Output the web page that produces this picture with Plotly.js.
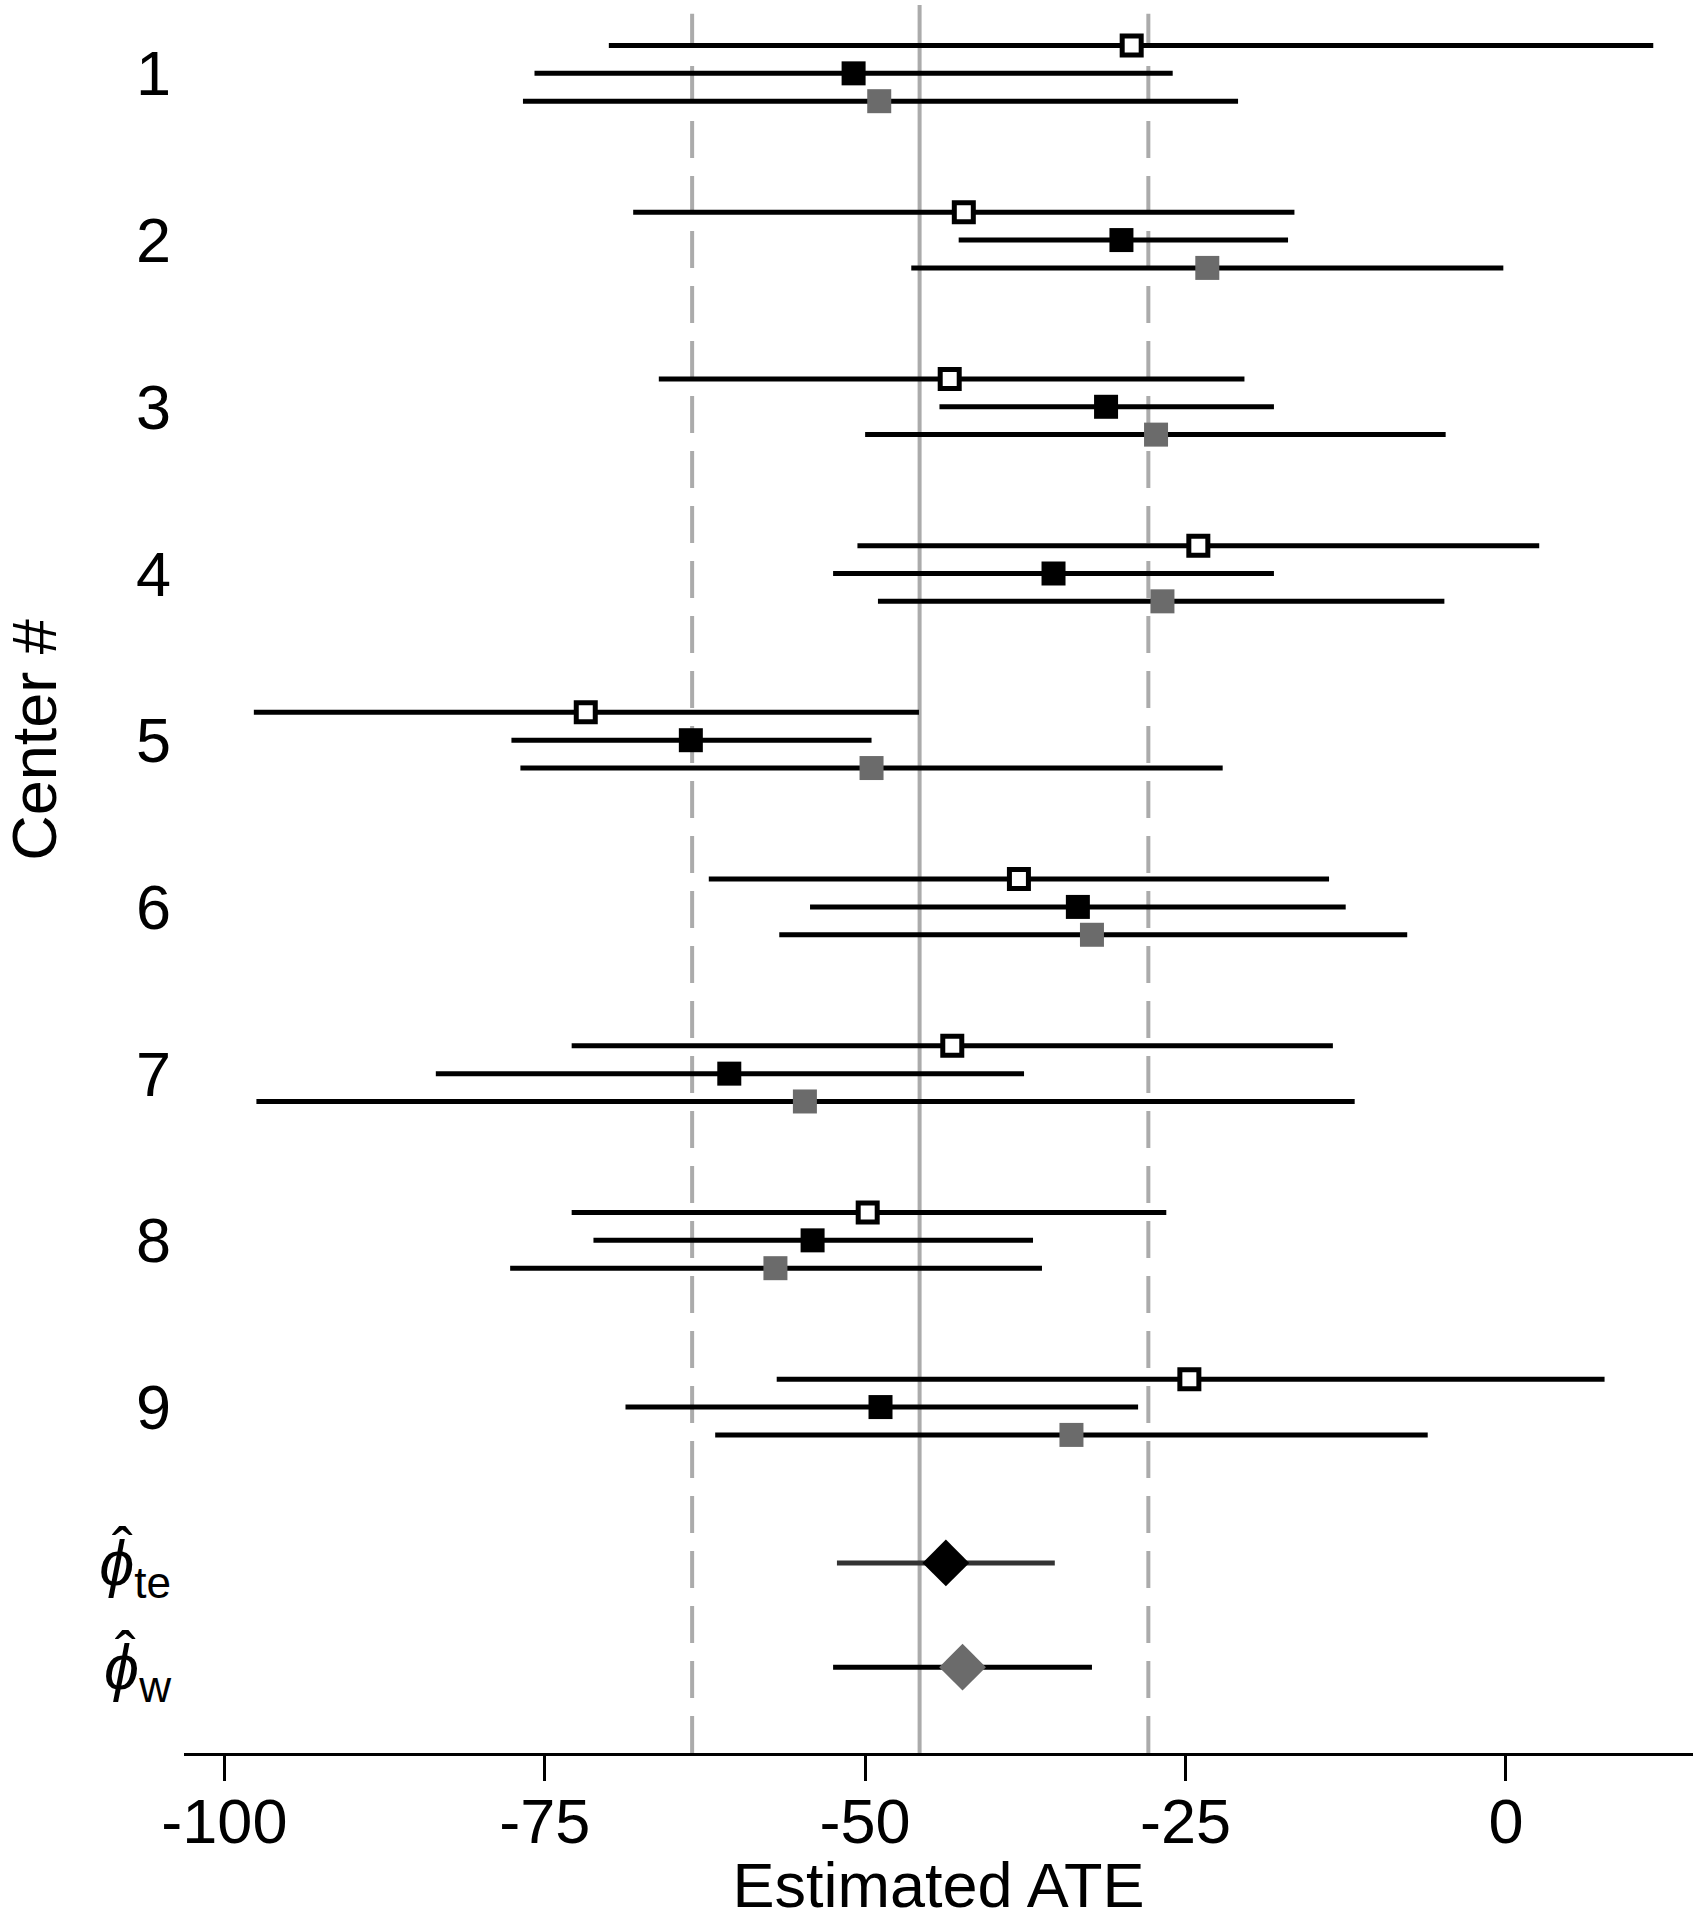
<!DOCTYPE html>
<html>
<head>
<meta charset="utf-8">
<script src="https://cdn.plot.ly/plotly-3.0.1.min.js"></script>
<style>
  body { margin: 0; background: #fff; }
  #plot1 { width: 1699px; height: 1920px; }
</style>
</head>
<body>
<div id="plot1"></div>
<script>
// centre labels
var centers = ['1', '2', '3', '4', '5', '6', '7', '8', '9'];

// open squares (top row of each centre)
var openEst = [-29.2, -42.3, -43.4, -24.0, -71.8, -38.0, -43.2, -49.8, -24.7];
var openLo  = [-70.0, -68.1, -66.1, -50.6, -97.7, -62.2, -72.9, -72.9, -56.9];
var openHi  = [ 11.5, -16.5, -20.4,   2.6, -45.8, -13.8, -13.5, -26.5,   7.7];

// black squares (middle row)
var blackEst = [-50.9, -30.0, -31.2, -35.3, -63.6, -33.4, -60.6, -54.1, -48.8];
var blackLo  = [-75.8, -42.7, -44.2, -52.5, -77.6, -54.3, -83.5, -71.2, -68.7];
var blackHi  = [-26.0, -17.0, -18.1, -18.1, -49.5, -12.5, -37.6, -36.9, -28.7];

// grey squares (bottom row)
var greyEst = [-48.9, -23.3, -27.3, -26.8, -49.5, -32.3, -54.7, -57.0, -33.9];
var greyLo  = [-76.7, -46.4, -50.0, -49.0, -76.9, -56.7, -97.5, -77.7, -61.7];
var greyHi  = [-20.9,  -0.2,  -4.7,  -4.8, -22.1,  -7.7, -11.8, -36.2,  -6.1];

// pooled estimates
var pooledLabels = ['<i>ϕ</i><sub>te</sub>', '<i>ϕ</i><sub>w</sub>'];
var pooledEst = [-43.7, -42.4];
var pooledLo  = [-52.2, -52.5];
var pooledHi  = [-35.2, -32.3];

// reference lines: solid centre, dashed bounds
var refMid = -45.75;
var refBounds = [-63.5, -27.9];

var xTicks = [-100, -75, -50, -25, 0];

var FONT = '"Liberation Sans", Arial, Helvetica, sans-serif';
var FS = 63;
var GREY = '#6b6b6b';

var rowOffset = 0.167;
var centerY = centers.map(function (c, i) { return i + 1; });
var pooledY = [9.935, 10.56];

function diffs(a, b) { return a.map(function (v, i) { return v - b[i]; }); }

function rowTrace(est, lo, hi, dy, marker) {
  return {
    x: est,
    y: centerY.map(function (v) { return v + dy; }),
    mode: 'markers',
    type: 'scatter',
    marker: marker,
    error_x: {
      type: 'data', symmetric: false,
      array: diffs(hi, est), arrayminus: diffs(est, lo),
      color: '#000', thickness: 5, width: 0
    },
    hoverinfo: 'x'
  };
}

var trace1 = rowTrace(openEst, openLo, openHi, -rowOffset,
  {symbol: 'square', size: 19, color: '#fff', line: {color: '#000', width: 5}});
var trace2 = rowTrace(blackEst, blackLo, blackHi, 0,
  {symbol: 'square', size: 24, color: '#000', line: {width: 0}});
var trace3 = rowTrace(greyEst, greyLo, greyHi, rowOffset,
  {symbol: 'square', size: 24, color: GREY, line: {width: 0}});

var trace4 = {
  x: [pooledEst[0]], y: [pooledY[0]],
  mode: 'markers', type: 'scatter',
  marker: {symbol: 'diamond', size: 36, color: '#000', line: {width: 0}},
  error_x: {type: 'data', symmetric: false,
    array: [pooledHi[0] - pooledEst[0]], arrayminus: [pooledEst[0] - pooledLo[0]],
    color: '#333', thickness: 5, width: 0}
};
var trace5 = {
  x: [pooledEst[1]], y: [pooledY[1]],
  mode: 'markers', type: 'scatter',
  marker: {symbol: 'diamond', size: 36, color: GREY, line: {width: 0}},
  error_x: {type: 'data', symmetric: false,
    array: [pooledHi[1] - pooledEst[1]], arrayminus: [pooledEst[1] - pooledLo[1]],
    color: '#000', thickness: 5, width: 0}
};

var data = [trace1, trace2, trace3, trace4, trace5];

var shapes = [{
  type: 'line', layer: 'below', xref: 'x', yref: 'paper',
  x0: refMid, x1: refMid, y0: 0, y1: 1,
  line: {color: '#ababab', width: 4}
}];
refBounds.forEach(function (b) {
  shapes.push({
    type: 'line', layer: 'below', xref: 'x', yref: 'paper',
    x0: b, x1: b, y0: 0, y1: 0.995,
    line: {color: '#ababab', width: 4, dash: '37px,18px'}
  });
});

// hats over the pooled phi labels, and the y-axis title
var annotations = [
  {xref: 'paper', yref: 'y', x: -0.041, y: pooledY[0], yshift: 13,
   text: 'ˆ', showarrow: false, xanchor: 'center', font: {size: FS}},
  {xref: 'paper', yref: 'y', x: -0.039, y: pooledY[1], yshift: 13,
   text: 'ˆ', showarrow: false, xanchor: 'center', font: {size: FS}},
  {xref: 'paper', yref: 'y', x: -0.099, y: 5, textangle: -90,
   text: 'Center #', showarrow: false, xanchor: 'center', yanchor: 'middle',
   font: {size: FS}}
];

var layout = {
  width: 1699,
  height: 1920,
  margin: {l: 184, r: 6, t: 5, b: 167},
  paper_bgcolor: '#fff',
  plot_bgcolor: '#fff',
  showlegend: false,
  font: {family: FONT, color: '#000', size: FS},
  shapes: shapes,
  annotations: annotations,
  xaxis: {
    range: [-103.15, 14.6],
    tickvals: xTicks,
    ticktext: xTicks.map(String),
    ticks: 'outside',
    ticklen: 25,
    tickwidth: 2.5,
    tickcolor: '#000',
    showline: true,
    linewidth: 3.3,
    linecolor: '#000',
    showgrid: false,
    zeroline: false,
    tickfont: {size: FS},
    ticklabelstandoff: -14,
    title: {text: 'Estimated ATE', font: {size: FS}, standoff: 4},
    automargin: false
  },
  yaxis: {
    range: [11.075, 0.59],
    tickvals: centerY.concat(pooledY),
    ticktext: centers.concat(pooledLabels),
    ticks: '',
    showline: false,
    showgrid: false,
    zeroline: false,
    tickfont: {size: FS},
    ticklabelstandoff: 12,
    automargin: false
  }
};

Plotly.newPlot('plot1', data, layout, {displayModeBar: false});
</script>
</body>
</html>
